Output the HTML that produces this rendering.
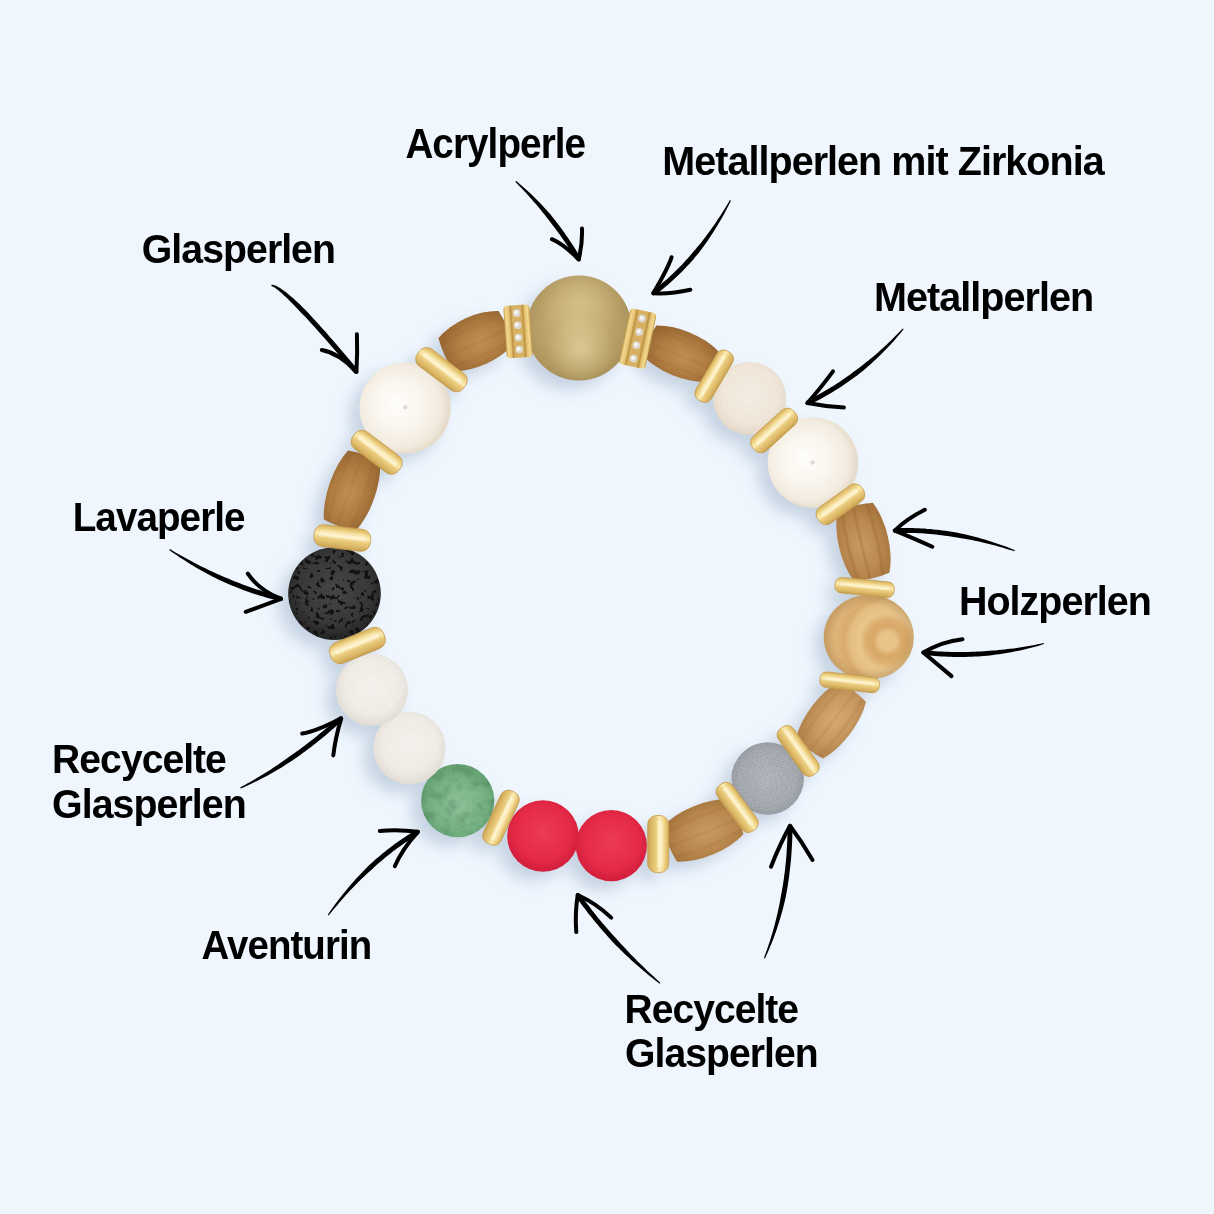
<!DOCTYPE html><html><head><meta charset="utf-8"><style>html,body{margin:0;padding:0;background:#EFF6FE;width:1214px;height:1214px;overflow:hidden}svg{position:absolute;left:0;top:0}</style></head><body>
<svg width="1214" height="1214" viewBox="0 0 1214 1214">
<defs>
<filter id="sh" x="-50%" y="-50%" width="200%" height="200%"><feGaussianBlur stdDeviation="8"/></filter>
<radialGradient id="gGold" cx="50%" cy="48%" r="56%" fx="45%" fy="45%"><stop offset="0" stop-color="#c9b27a"/><stop offset="0.5" stop-color="#bea66d"/><stop offset="0.85" stop-color="#b09760"/><stop offset="1" stop-color="#a28a55"/></radialGradient>
<radialGradient id="gPearl" cx="45%" cy="48%" r="56%" fx="40%" fy="45%"><stop offset="0" stop-color="#fffefb"/><stop offset="0.45" stop-color="#faf6ef"/><stop offset="0.8" stop-color="#f2ebdf"/><stop offset="1" stop-color="#e3d8c5"/></radialGradient>
<radialGradient id="gJade1" cx="50%" cy="45%" r="55%"><stop offset="0" stop-color="#f6efe4"/><stop offset="0.7" stop-color="#f2e8db"/><stop offset="1" stop-color="#e6dac8"/></radialGradient>
<radialGradient id="gJade" cx="50%" cy="45%" r="55%"><stop offset="0" stop-color="#f7f4ef"/><stop offset="0.7" stop-color="#f1ede7"/><stop offset="1" stop-color="#e3ded6"/></radialGradient>
<radialGradient id="gGreen" cx="52%" cy="55%" r="55%"><stop offset="0" stop-color="#8cc198"/><stop offset="0.6" stop-color="#79b486"/><stop offset="1" stop-color="#63a071"/></radialGradient>
<radialGradient id="gRed" cx="50%" cy="45%" r="55%"><stop offset="0" stop-color="#ec3a55"/><stop offset="0.7" stop-color="#e52a47"/><stop offset="1" stop-color="#d11d3a"/></radialGradient>
<radialGradient id="gGrey" cx="50%" cy="50%" r="55%"><stop offset="0" stop-color="#b7bbc0"/><stop offset="0.7" stop-color="#aaafb5"/><stop offset="1" stop-color="#989da4"/></radialGradient>
<radialGradient id="gLava" cx="50%" cy="45%" r="55%"><stop offset="0" stop-color="#454546"/><stop offset="0.7" stop-color="#383839"/><stop offset="1" stop-color="#232324"/></radialGradient>
<radialGradient id="gHolz" gradientUnits="userSpaceOnUse" cx="887.5" cy="641" r="75"><stop offset="0" stop-color="#eac48a"/><stop offset="0.12" stop-color="#e8c287"/><stop offset="0.2" stop-color="#d8a867"/><stop offset="0.28" stop-color="#dcae6e"/><stop offset="0.38" stop-color="#e9c68c"/><stop offset="0.5" stop-color="#e4bd82"/><stop offset="0.58" stop-color="#d9ab6d"/><stop offset="0.7" stop-color="#dfb478"/><stop offset="1" stop-color="#d6aa6c"/></radialGradient>
<radialGradient id="gEdge" cx="50%" cy="50%" r="50%"><stop offset="0" stop-color="#6a4a20" stop-opacity="0"/><stop offset="0.75" stop-color="#6a4a20" stop-opacity="0"/><stop offset="1" stop-color="#6a4a20" stop-opacity="0.2"/></radialGradient>
<radialGradient id="gWood" cx="55%" cy="55%" r="62%"><stop offset="0" stop-color="#c99b62"/><stop offset="0.55" stop-color="#ba8a50"/><stop offset="1" stop-color="#a5743c"/></radialGradient>
<radialGradient id="gWoodD" cx="55%" cy="55%" r="62%"><stop offset="0" stop-color="#c18f52"/><stop offset="0.55" stop-color="#b07d42"/><stop offset="1" stop-color="#976631"/></radialGradient>
<radialGradient id="gWoodL" cx="55%" cy="55%" r="62%"><stop offset="0" stop-color="#d6ab72"/><stop offset="0.55" stop-color="#c89a5f"/><stop offset="1" stop-color="#b0804a"/></radialGradient>
<linearGradient id="gSp2" x1="0" y1="0" x2="0" y2="1"><stop offset="0" stop-color="#fff6d8" stop-opacity="0"/><stop offset="0.45" stop-color="#fff8e0" stop-opacity="0.7"/><stop offset="0.6" stop-color="#fff8e0" stop-opacity="0"/></linearGradient>
<linearGradient id="gSp" x1="0" y1="0" x2="0" y2="1"><stop offset="0" stop-color="#d6b15c"/><stop offset="0.2" stop-color="#eed182"/><stop offset="0.42" stop-color="#fcedb6"/><stop offset="0.6" stop-color="#ebcd7f"/><stop offset="0.85" stop-color="#dab664"/><stop offset="1" stop-color="#c49e4f"/></linearGradient>
<linearGradient id="gZr" x1="0" y1="0" x2="1" y2="0"><stop offset="0" stop-color="#c49c4a"/><stop offset="0.08" stop-color="#f4da92"/><stop offset="0.2" stop-color="#e4c070"/><stop offset="0.27" stop-color="#b98f44"/><stop offset="0.33" stop-color="#d8b262"/><stop offset="0.67" stop-color="#d8b262"/><stop offset="0.73" stop-color="#b98f44"/><stop offset="0.8" stop-color="#e4c070"/><stop offset="0.92" stop-color="#f4da92"/><stop offset="1" stop-color="#c49c4a"/></linearGradient>
<filter id="lavaTex" x="0" y="0" width="100%" height="100%" color-interpolation-filters="sRGB"><feTurbulence type="fractalNoise" baseFrequency="0.2" numOctaves="2" seed="7" result="n"/><feColorMatrix in="n" type="matrix" values="0 0 0 0 0.06  0 0 0 0 0.06  0 0 0 0 0.06  -16 0 0 0 6.8" result="sp"/><feComposite in="sp" in2="SourceGraphic" operator="in"/></filter>
<radialGradient id="gGoldHi1" cx="52%" cy="70%" r="32%"><stop offset="0" stop-color="#efe0b0" stop-opacity="0.55"/><stop offset="1" stop-color="#efe0b0" stop-opacity="0"/></radialGradient>
<radialGradient id="gGoldHi2" cx="52%" cy="25%" r="40%"><stop offset="0" stop-color="#e6d49e" stop-opacity="0.5"/><stop offset="1" stop-color="#e6d49e" stop-opacity="0"/></radialGradient>
<filter id="mottle" x="0" y="0" width="100%" height="100%" color-interpolation-filters="sRGB"><feTurbulence type="fractalNoise" baseFrequency="0.09" numOctaves="3" seed="11" result="n"/><feColorMatrix in="n" type="matrix" values="0 0 0 0 0.1  0 0 0 0 0.25  0 0 0 0 0.15  -2.2 0 0 0 1.25" result="sp"/><feComposite in="sp" in2="SourceGraphic" operator="in"/></filter>
<filter id="speck" x="0" y="0" width="100%" height="100%" color-interpolation-filters="sRGB"><feTurbulence type="fractalNoise" baseFrequency="0.8" numOctaves="1" seed="5" result="n"/><feColorMatrix in="n" type="matrix" values="0 0 0 0 0.35  0 0 0 0 0.37  0 0 0 0 0.4  -3 0 0 0 1.75" result="sp"/><feComposite in="sp" in2="SourceGraphic" operator="in"/></filter>
</defs>
<g filter="url(#sh)" fill="#9fb0c6" opacity="0.5" transform="translate(-10,9)">
<circle cx="579.0" cy="328.0" r="52.5"/>
<circle cx="749.6" cy="398.4" r="36.5"/>
<circle cx="812.9" cy="462.6" r="45.2"/>
<circle cx="868.7" cy="637.0" r="44.0"/>
<circle cx="767.7" cy="778.5" r="36.2"/>
<circle cx="611.3" cy="845.6" r="35.6"/>
<circle cx="543.0" cy="836.0" r="35.8"/>
<circle cx="457.7" cy="800.6" r="36.6"/>
<circle cx="409.4" cy="748.0" r="36.2"/>
<circle cx="372.0" cy="690.0" r="36.0"/>
<circle cx="334.5" cy="593.6" r="46.3"/>
<circle cx="405.0" cy="408.0" r="45.6"/>
<path d="M-33.5 -16.7A48.6 23.0 0 0 1 33.5 -16.7Q36.5 0 33.5 16.7A48.6 23.0 0 0 1 -33.5 16.7Q-36.5 0 -33.5 -16.7Z" transform="translate(680.8 353.7) rotate(22.5)"/>
<path d="M-33.0 -18.1A47.9 25.0 0 0 1 33.0 -18.1Q36.0 0 33.0 18.1A47.9 25.0 0 0 1 -33.0 18.1Q-36.0 0 -33.0 -18.1Z" transform="translate(476.0 341.0) rotate(-24.3)"/>
<path d="M-36.0 -18.1A52.2 25.0 0 0 1 36.0 -18.1Q39.0 0 36.0 18.1A52.2 25.0 0 0 1 -36.0 18.1Q-39.0 0 -36.0 -18.1Z" transform="translate(863.5 542.0) rotate(76.7)"/>
<path d="M-35.5 -17.0A51.5 23.5 0 0 1 35.5 -17.0Q38.5 0 35.5 17.0A51.5 23.5 0 0 1 -35.5 17.0Q-38.5 0 -35.5 -17.0Z" transform="translate(831.0 720.0) rotate(-52.7)"/>
<path d="M-36.0 -18.8A52.2 26.0 0 0 1 36.0 -18.8Q39.0 0 36.0 18.8A52.2 26.0 0 0 1 -36.0 18.8Q-39.0 0 -36.0 -18.8Z" transform="translate(703.0 830.5) rotate(-22.3)"/>
<path d="M-36.5 -17.0A52.9 23.5 0 0 1 36.5 -17.0Q39.5 0 36.5 17.0A52.9 23.5 0 0 1 -36.5 17.0Q-39.5 0 -36.5 -17.0Z" transform="translate(352.0 490.6) rotate(109.3)"/>
<rect x="685.9" y="367.1" width="56.7" height="18.0" rx="9.0" transform="rotate(-59.6 714.2 376.1)"/>
<rect x="746.7" y="420.8" width="55.0" height="19.5" rx="9.8" transform="rotate(-42.3 774.2 430.5)"/>
<rect x="813.5" y="494.6" width="54.0" height="19.5" rx="9.8" transform="rotate(-35.6 840.5 504.3)"/>
<rect x="835.0" y="579.8" width="59.5" height="15.5" rx="7.8" transform="rotate(5.6 864.7 587.5)"/>
<rect x="819.9" y="674.6" width="59.7" height="15.5" rx="7.8" transform="rotate(6.6 849.7 682.4)"/>
<rect x="769.7" y="741.6" width="57.0" height="18.5" rx="9.2" transform="rotate(54.3 798.2 750.9)"/>
<rect x="709.0" y="798.0" width="56.5" height="18.5" rx="9.2" transform="rotate(53.5 737.2 807.3)"/>
<rect x="629.7" y="833.5" width="57.0" height="21.0" rx="10.5" transform="rotate(90.0 658.2 844.0)"/>
<rect x="472.1" y="808.0" width="57.5" height="19.5" rx="9.8" transform="rotate(114.9 500.9 817.7)"/>
<rect x="328.8" y="634.5" width="57.5" height="22.0" rx="11.0" transform="rotate(-22.0 357.5 645.5)"/>
<rect x="313.9" y="527.0" width="56.8" height="22.0" rx="11.0" transform="rotate(7.0 342.3 538.0)"/>
<rect x="348.2" y="441.8" width="57.0" height="21.0" rx="10.5" transform="rotate(37.0 376.7 452.3)"/>
<rect x="412.8" y="359.2" width="57.5" height="21.0" rx="10.5" transform="rotate(37.0 441.5 369.7)"/>
</g>
<circle cx="579.0" cy="328.0" r="52.5" fill="url(#gGold)"/>
<circle cx="579.0" cy="328.0" r="52.5" fill="url(#gGoldHi1)"/><circle cx="579.0" cy="328.0" r="52.5" fill="url(#gGoldHi2)"/>
<circle cx="749.6" cy="398.4" r="36.5" fill="url(#gJade1)"/>
<circle cx="749.6" cy="398.4" r="36.5" fill="#000" filter="url(#speck)" opacity="0.05"/>
<circle cx="812.9" cy="462.6" r="45.2" fill="url(#gPearl)"/>
<ellipse cx="868.8" cy="637.2" rx="45.1" ry="42.4" fill="url(#gHolz)"/><ellipse cx="868.8" cy="637.2" rx="45.1" ry="42.4" fill="url(#gEdge)"/>
<circle cx="767.7" cy="778.5" r="36.2" fill="url(#gGrey)"/>
<circle cx="767.7" cy="778.5" r="36.2" fill="#000" filter="url(#speck)" opacity="0.25"/>
<circle cx="611.3" cy="845.6" r="35.6" fill="url(#gRed)"/>
<circle cx="543.0" cy="836.0" r="35.8" fill="url(#gRed)"/>
<circle cx="457.7" cy="800.6" r="36.6" fill="url(#gGreen)"/>
<circle cx="457.7" cy="800.6" r="36.6" fill="#000" filter="url(#mottle)" opacity="0.22"/>
<circle cx="409.4" cy="748.0" r="36.2" fill="url(#gJade)"/>
<circle cx="409.4" cy="748.0" r="36.2" fill="#000" filter="url(#speck)" opacity="0.05"/>
<circle cx="372.0" cy="690.0" r="36.0" fill="url(#gJade)"/>
<circle cx="372.0" cy="690.0" r="36.0" fill="#000" filter="url(#speck)" opacity="0.05"/>
<circle cx="334.5" cy="593.6" r="46.3" fill="url(#gLava)"/>
<circle cx="405.0" cy="408.0" r="45.6" fill="url(#gPearl)"/>
<circle cx="405.3" cy="407.3" r="2.2" fill="#cbc3b6" opacity="0.55"/><circle cx="812.5" cy="462.5" r="2.2" fill="#cbc3b6" opacity="0.55"/>
<circle cx="334.5" cy="593.6" r="45.8" fill="#000" filter="url(#lavaTex)" opacity="0.9"/>
<g transform="translate(680.8 353.7) rotate(22.5)"><clipPath id="wc0"><path d="M-33.5 -16.7A48.6 23.0 0 0 1 33.5 -16.7Q36.5 0 33.5 16.7A48.6 23.0 0 0 1 -33.5 16.7Q-36.5 0 -33.5 -16.7Z"/></clipPath><path d="M-33.5 -16.7A48.6 23.0 0 0 1 33.5 -16.7Q36.5 0 33.5 16.7A48.6 23.0 0 0 1 -33.5 16.7Q-36.5 0 -33.5 -16.7Z" fill="url(#gWoodD)"/>
<g clip-path="url(#wc0)" fill="none" stroke="#8a5a28" stroke-opacity="0.1" stroke-width="3">
<path d="M-35.5 -10.3Q0 -14.8 35.5 -10.3"/>
<path d="M-35.5 1.8Q0 2.6 35.5 1.8"/>
<path d="M-35.5 12.1Q0 17.5 35.5 12.1"/>
</g></g>
<g transform="translate(476.0 341.0) rotate(-24.3)"><clipPath id="wc1"><path d="M-33.0 -18.1A47.9 25.0 0 0 1 33.0 -18.1Q36.0 0 33.0 18.1A47.9 25.0 0 0 1 -33.0 18.1Q-36.0 0 -33.0 -18.1Z"/></clipPath><path d="M-33.0 -18.1A47.9 25.0 0 0 1 33.0 -18.1Q36.0 0 33.0 18.1A47.9 25.0 0 0 1 -33.0 18.1Q-36.0 0 -33.0 -18.1Z" fill="url(#gWoodD)"/>
<g clip-path="url(#wc1)" fill="none" stroke="#8a5a28" stroke-opacity="0.1" stroke-width="3">
<path d="M-35.0 -11.2Q0 -16.1 35.0 -11.2"/>
<path d="M-35.0 2.0Q0 2.9 35.0 2.0"/>
<path d="M-35.0 13.2Q0 19.0 35.0 13.2"/>
</g></g>
<g transform="translate(863.5 542.0) rotate(76.7)"><clipPath id="wc2"><path d="M-36.0 -18.1A52.2 25.0 0 0 1 36.0 -18.1Q39.0 0 36.0 18.1A52.2 25.0 0 0 1 -36.0 18.1Q-39.0 0 -36.0 -18.1Z"/></clipPath><path d="M-36.0 -18.1A52.2 25.0 0 0 1 36.0 -18.1Q39.0 0 36.0 18.1A52.2 25.0 0 0 1 -36.0 18.1Q-39.0 0 -36.0 -18.1Z" fill="url(#gWood)"/>
<g clip-path="url(#wc2)" fill="none" stroke="#8a5a28" stroke-opacity="0.25" stroke-width="3">
<path d="M-38.0 -11.2Q0 -16.1 38.0 -11.2"/>
<path d="M-38.0 2.0Q0 2.9 38.0 2.0"/>
<path d="M-38.0 13.2Q0 19.0 38.0 13.2"/>
</g></g>
<g transform="translate(831.0 720.0) rotate(-52.7)"><clipPath id="wc3"><path d="M-35.5 -17.0A51.5 23.5 0 0 1 35.5 -17.0Q38.5 0 35.5 17.0A51.5 23.5 0 0 1 -35.5 17.0Q-38.5 0 -35.5 -17.0Z"/></clipPath><path d="M-35.5 -17.0A51.5 23.5 0 0 1 35.5 -17.0Q38.5 0 35.5 17.0A51.5 23.5 0 0 1 -35.5 17.0Q-38.5 0 -35.5 -17.0Z" fill="url(#gWoodL)"/>
<g clip-path="url(#wc3)" fill="none" stroke="#8a5a28" stroke-opacity="0.1" stroke-width="3">
<path d="M-37.5 -10.5Q0 -15.1 37.5 -10.5"/>
<path d="M-37.5 1.9Q0 2.7 37.5 1.9"/>
<path d="M-37.5 12.4Q0 17.8 37.5 12.4"/>
</g></g>
<g transform="translate(703.0 830.5) rotate(-22.3)"><clipPath id="wc4"><path d="M-36.0 -18.8A52.2 26.0 0 0 1 36.0 -18.8Q39.0 0 36.0 18.8A52.2 26.0 0 0 1 -36.0 18.8Q-39.0 0 -36.0 -18.8Z"/></clipPath><path d="M-36.0 -18.8A52.2 26.0 0 0 1 36.0 -18.8Q39.0 0 36.0 18.8A52.2 26.0 0 0 1 -36.0 18.8Q-39.0 0 -36.0 -18.8Z" fill="url(#gWood)"/>
<g clip-path="url(#wc4)" fill="none" stroke="#8a5a28" stroke-opacity="0.1" stroke-width="3">
<path d="M-38.0 -11.6Q0 -16.7 38.0 -11.6"/>
<path d="M-38.0 2.1Q0 3.0 38.0 2.1"/>
<path d="M-38.0 13.7Q0 19.7 38.0 13.7"/>
</g></g>
<g transform="translate(352.0 490.6) rotate(109.3)"><clipPath id="wc5"><path d="M-36.5 -17.0A52.9 23.5 0 0 1 36.5 -17.0Q39.5 0 36.5 17.0A52.9 23.5 0 0 1 -36.5 17.0Q-39.5 0 -36.5 -17.0Z"/></clipPath><path d="M-36.5 -17.0A52.9 23.5 0 0 1 36.5 -17.0Q39.5 0 36.5 17.0A52.9 23.5 0 0 1 -36.5 17.0Q-39.5 0 -36.5 -17.0Z" fill="url(#gWoodD)"/>
<g clip-path="url(#wc5)" fill="none" stroke="#8a5a28" stroke-opacity="0.1" stroke-width="3">
<path d="M-38.5 -10.5Q0 -15.1 38.5 -10.5"/>
<path d="M-38.5 1.9Q0 2.7 38.5 1.9"/>
<path d="M-38.5 12.4Q0 17.8 38.5 12.4"/>
</g></g>
<g transform="translate(714.2 376.1) rotate(-59.6)"><rect x="-28.4" y="-9.0" width="56.7" height="18.0" rx="7.6" fill="url(#gSp)" stroke="#c69c4f" stroke-width="0.8"/><rect x="-23.4" y="-6.0" width="46.7" height="12.0" rx="5.4" fill="url(#gSp2)"/></g>
<g transform="translate(774.2 430.5) rotate(-42.3)"><rect x="-27.5" y="-9.8" width="55.0" height="19.5" rx="8.2" fill="url(#gSp)" stroke="#c69c4f" stroke-width="0.8"/><rect x="-22.5" y="-6.8" width="45.0" height="13.5" rx="5.8" fill="url(#gSp2)"/></g>
<g transform="translate(840.5 504.3) rotate(-35.6)"><rect x="-27.0" y="-9.8" width="54.0" height="19.5" rx="8.2" fill="url(#gSp)" stroke="#c69c4f" stroke-width="0.8"/><rect x="-22.0" y="-6.8" width="44.0" height="13.5" rx="5.8" fill="url(#gSp2)"/></g>
<g transform="translate(864.7 587.5) rotate(5.6)"><rect x="-29.8" y="-7.8" width="59.5" height="15.5" rx="6.5" fill="url(#gSp)" stroke="#c69c4f" stroke-width="0.8"/><rect x="-24.8" y="-4.8" width="49.5" height="9.5" rx="4.6" fill="url(#gSp2)"/></g>
<g transform="translate(849.7 682.4) rotate(6.6)"><rect x="-29.9" y="-7.8" width="59.7" height="15.5" rx="6.5" fill="url(#gSp)" stroke="#c69c4f" stroke-width="0.8"/><rect x="-24.9" y="-4.8" width="49.7" height="9.5" rx="4.6" fill="url(#gSp2)"/></g>
<g transform="translate(798.2 750.9) rotate(54.3)"><rect x="-28.5" y="-9.2" width="57.0" height="18.5" rx="7.8" fill="url(#gSp)" stroke="#c69c4f" stroke-width="0.8"/><rect x="-23.5" y="-6.2" width="47.0" height="12.5" rx="5.5" fill="url(#gSp2)"/></g>
<g transform="translate(737.2 807.3) rotate(53.5)"><rect x="-28.2" y="-9.2" width="56.5" height="18.5" rx="7.8" fill="url(#gSp)" stroke="#c69c4f" stroke-width="0.8"/><rect x="-23.2" y="-6.2" width="46.5" height="12.5" rx="5.5" fill="url(#gSp2)"/></g>
<g transform="translate(658.2 844.0) rotate(90.0)"><rect x="-28.5" y="-10.5" width="57.0" height="21.0" rx="8.8" fill="url(#gSp)" stroke="#c69c4f" stroke-width="0.8"/><rect x="-23.5" y="-7.5" width="47.0" height="15.0" rx="6.3" fill="url(#gSp2)"/></g>
<g transform="translate(500.9 817.7) rotate(114.9)"><rect x="-28.8" y="-9.8" width="57.5" height="19.5" rx="8.2" fill="url(#gSp)" stroke="#c69c4f" stroke-width="0.8"/><rect x="-23.8" y="-6.8" width="47.5" height="13.5" rx="5.8" fill="url(#gSp2)"/></g>
<g transform="translate(357.5 645.5) rotate(-22.0)"><rect x="-28.8" y="-11.0" width="57.5" height="22.0" rx="9.2" fill="url(#gSp)" stroke="#c69c4f" stroke-width="0.8"/><rect x="-23.8" y="-8.0" width="47.5" height="16.0" rx="6.6" fill="url(#gSp2)"/></g>
<g transform="translate(342.3 538.0) rotate(7.0)"><rect x="-28.4" y="-11.0" width="56.8" height="22.0" rx="9.2" fill="url(#gSp)" stroke="#c69c4f" stroke-width="0.8"/><rect x="-23.4" y="-8.0" width="46.8" height="16.0" rx="6.6" fill="url(#gSp2)"/></g>
<g transform="translate(376.7 452.3) rotate(37.0)"><rect x="-28.5" y="-10.5" width="57.0" height="21.0" rx="8.8" fill="url(#gSp)" stroke="#c69c4f" stroke-width="0.8"/><rect x="-23.5" y="-7.5" width="47.0" height="15.0" rx="6.3" fill="url(#gSp2)"/></g>
<g transform="translate(441.5 369.7) rotate(37.0)"><rect x="-28.8" y="-10.5" width="57.5" height="21.0" rx="8.8" fill="url(#gSp)" stroke="#c69c4f" stroke-width="0.8"/><rect x="-23.8" y="-7.5" width="47.5" height="15.0" rx="6.3" fill="url(#gSp2)"/></g>
<g transform="rotate(12.0 637.8 338.6)"><rect x="624.3" y="310.1" width="27.0" height="57.0" rx="4" fill="url(#gZr)"/>
<circle cx="637.8" cy="318.1" r="3.8" fill="#dcd8cf"/><circle cx="637.2" cy="317.5" r="2" fill="#f7f6f2"/>
<circle cx="637.8" cy="331.8" r="3.8" fill="#dcd8cf"/><circle cx="637.2" cy="331.2" r="2" fill="#f7f6f2"/>
<circle cx="637.8" cy="345.4" r="3.8" fill="#dcd8cf"/><circle cx="637.2" cy="344.8" r="2" fill="#f7f6f2"/>
<circle cx="637.8" cy="359.1" r="3.8" fill="#dcd8cf"/><circle cx="637.2" cy="358.5" r="2" fill="#f7f6f2"/>
</g>
<g transform="rotate(-4.0 518.0 331.4)"><rect x="505.0" y="305.1" width="26.0" height="52.5" rx="4" fill="url(#gZr)"/>
<circle cx="518.0" cy="313.1" r="3.8" fill="#dcd8cf"/><circle cx="517.4" cy="312.5" r="2" fill="#f7f6f2"/>
<circle cx="518.0" cy="325.3" r="3.8" fill="#dcd8cf"/><circle cx="517.4" cy="324.7" r="2" fill="#f7f6f2"/>
<circle cx="518.0" cy="337.5" r="3.8" fill="#dcd8cf"/><circle cx="517.4" cy="336.9" r="2" fill="#f7f6f2"/>
<circle cx="518.0" cy="349.6" r="3.8" fill="#dcd8cf"/><circle cx="517.4" cy="349.0" r="2" fill="#f7f6f2"/>
</g>
<g fill="#000">
<path d="M271.3 285.8L272.0 286.2L272.7 286.5L273.5 287.0L274.4 287.5L275.4 288.1L276.4 288.9L277.5 289.7L278.6 290.6L279.9 291.7L281.2 292.8L282.6 294.0L284.0 295.4L285.6 296.8L287.2 298.3L288.8 300.0L290.6 301.7L292.4 303.6L294.3 305.5L296.2 307.6L298.3 309.7L300.4 311.9L302.6 314.2L304.9 316.6L307.3 319.1L309.7 321.8L312.2 324.5L314.8 327.3L317.4 330.2L320.1 333.3L322.9 336.4L325.7 339.6L328.7 343.0L331.6 346.4L334.7 349.9L337.8 353.6L341.0 357.3L344.3 361.2L347.6 365.1L351.0 369.2L354.5 373.4L358.3 370.2L354.8 366.1L351.4 362.0L348.0 358.0L344.8 354.2L341.6 350.4L338.4 346.7L335.4 343.2L332.4 339.7L329.4 336.4L326.6 333.1L323.8 330.0L321.0 327.0L318.4 324.0L315.8 321.2L313.3 318.4L310.8 315.8L308.5 313.3L306.2 310.8L303.9 308.5L301.7 306.3L299.6 304.2L297.5 302.2L295.5 300.4L293.5 298.6L291.6 297.0L289.8 295.4L288.1 294.0L286.4 292.6L284.8 291.4L283.2 290.2L281.8 289.2L280.4 288.3L279.0 287.4L277.7 286.7L276.5 286.1L275.4 285.6L274.3 285.2L273.3 284.9L272.4 284.8L271.5 284.8Z"/>
<path d="M515.3 181.9L517.0 183.6L518.7 185.4L520.4 187.1L522.1 188.8L523.7 190.6L525.4 192.3L527.0 194.1L528.7 195.9L530.3 197.7L531.9 199.5L533.5 201.4L535.1 203.2L536.7 205.1L538.3 206.9L539.8 208.8L541.4 210.7L542.9 212.7L544.5 214.6L546.0 216.6L547.5 218.5L549.1 220.5L550.6 222.4L552.1 224.4L553.7 226.4L555.2 228.4L556.7 230.4L558.2 232.5L559.7 234.6L561.1 236.6L562.6 238.7L564.0 240.8L565.5 243.0L566.9 245.1L568.3 247.3L569.7 249.5L571.1 251.7L572.5 253.9L573.9 256.1L575.2 258.4L576.6 260.6L580.8 258.2L579.4 255.9L578.1 253.6L576.7 251.3L575.3 249.1L573.9 246.8L572.4 244.6L571.0 242.4L569.5 240.2L568.1 238.1L566.6 235.9L565.1 233.8L563.6 231.7L562.1 229.6L560.6 227.5L559.1 225.5L557.6 223.4L556.0 221.4L554.5 219.4L552.9 217.4L551.3 215.5L549.7 213.6L548.0 211.7L546.3 209.8L544.6 208.0L542.9 206.1L541.2 204.3L539.5 202.5L537.8 200.7L536.0 199.0L534.3 197.3L532.5 195.5L530.8 193.8L529.0 192.2L527.2 190.5L525.4 188.9L523.5 187.3L521.7 185.7L519.8 184.1L518.0 182.6L516.1 181.1Z"/>
<path d="M729.9 200.1L728.2 203.0L726.5 205.8L724.7 208.7L723.0 211.4L721.3 214.2L719.5 216.9L717.7 219.6L716.0 222.3L714.2 224.9L712.3 227.5L710.5 230.0L708.7 232.6L706.8 235.1L705.0 237.5L703.1 240.0L701.2 242.4L699.3 244.7L697.3 247.1L695.4 249.4L693.4 251.6L691.5 253.9L689.6 256.2L687.6 258.4L685.6 260.6L683.7 262.7L681.7 264.9L679.6 267.0L677.6 269.0L675.5 271.1L673.5 273.1L671.4 275.0L669.3 277.0L667.2 278.9L665.0 280.8L662.9 282.6L660.7 284.4L658.5 286.2L656.3 287.9L654.1 289.6L651.8 291.3L654.8 295.3L657.0 293.5L659.3 291.8L661.6 290.0L663.8 288.2L666.0 286.3L668.2 284.5L670.4 282.5L672.6 280.6L674.7 278.6L676.9 276.6L679.0 274.6L681.1 272.5L683.1 270.4L685.2 268.3L687.2 266.1L689.3 263.9L691.3 261.7L693.3 259.4L695.2 257.1L697.2 254.8L699.1 252.4L700.9 249.9L702.8 247.4L704.6 244.9L706.4 242.4L708.2 239.9L709.9 237.3L711.7 234.6L713.4 232.0L715.1 229.3L716.8 226.6L718.4 223.8L720.1 221.0L721.7 218.2L723.3 215.4L724.9 212.5L726.4 209.6L727.9 206.7L729.4 203.7L730.9 200.7Z"/>
<path d="M902.8 328.5L900.6 330.8L898.3 333.1L896.1 335.3L893.9 337.5L891.7 339.7L889.4 341.9L887.2 344.0L884.9 346.2L882.7 348.3L880.4 350.3L878.1 352.4L875.8 354.4L873.4 356.4L871.1 358.3L868.7 360.2L866.4 362.1L864.0 364.0L861.6 365.9L859.2 367.7L856.8 369.5L854.4 371.3L852.0 373.1L849.6 374.9L847.2 376.6L844.7 378.3L842.3 380.0L839.8 381.7L837.3 383.3L834.8 384.9L832.3 386.5L829.8 388.0L827.2 389.6L824.7 391.1L822.1 392.5L819.5 394.0L816.9 395.4L814.3 396.8L811.6 398.1L809.0 399.5L806.3 400.8L808.5 405.2L811.2 403.9L813.9 402.5L816.6 401.1L819.2 399.7L821.9 398.3L824.5 396.8L827.1 395.3L829.7 393.8L832.3 392.2L834.9 390.6L837.5 389.0L840.0 387.4L842.5 385.7L845.0 384.1L847.5 382.3L850.0 380.6L852.5 378.8L854.9 377.0L857.4 375.2L859.8 373.3L862.2 371.4L864.5 369.4L866.8 367.4L869.1 365.4L871.4 363.4L873.7 361.3L876.0 359.2L878.2 357.0L880.4 354.9L882.6 352.7L884.8 350.5L887.0 348.3L889.1 346.0L891.3 343.7L893.4 341.4L895.5 339.0L897.6 336.6L899.6 334.2L901.6 331.8L903.6 329.3Z"/>
<path d="M1014.9 550.2L1011.9 548.9L1008.9 547.7L1005.9 546.6L1002.8 545.5L999.8 544.4L996.8 543.4L993.8 542.4L990.8 541.4L987.8 540.5L984.7 539.6L981.7 538.7L978.7 537.8L975.7 537.0L972.7 536.2L969.7 535.5L966.6 534.8L963.6 534.1L960.6 533.4L957.6 532.8L954.6 532.2L951.6 531.7L948.6 531.2L945.6 530.8L942.5 530.4L939.5 530.0L936.5 529.7L933.5 529.4L930.5 529.1L927.5 528.9L924.5 528.6L921.5 528.5L918.5 528.3L915.6 528.2L912.6 528.1L909.6 528.0L906.6 528.0L903.6 528.0L900.7 528.0L897.7 528.1L894.7 528.2L894.9 533.0L897.8 533.0L900.7 532.9L903.6 532.9L906.6 532.9L909.5 532.9L912.4 533.0L915.4 533.1L918.3 533.2L921.3 533.3L924.2 533.5L927.1 533.7L930.1 534.0L933.0 534.3L936.0 534.6L939.0 534.9L941.9 535.3L944.9 535.7L947.9 536.1L950.8 536.5L953.8 537.0L956.8 537.5L959.8 537.9L962.8 538.4L965.8 538.9L968.8 539.5L971.8 540.1L974.8 540.7L977.8 541.3L980.9 542.0L983.9 542.7L986.9 543.5L990.0 544.2L993.0 545.0L996.1 545.8L999.1 546.7L1002.2 547.5L1005.2 548.4L1008.3 549.4L1011.4 550.3L1014.5 551.2Z"/>
<path d="M1043.7 643.1L1040.6 643.7L1037.6 644.3L1034.6 644.9L1031.6 645.4L1028.6 646.0L1025.6 646.5L1022.6 647.0L1019.6 647.5L1016.6 647.9L1013.6 648.4L1010.6 648.8L1007.6 649.1L1004.6 649.5L1001.6 649.8L998.6 650.1L995.6 650.4L992.6 650.6L989.6 650.8L986.6 651.0L983.6 651.2L980.6 651.4L977.6 651.5L974.6 651.7L971.6 651.8L968.7 651.9L965.7 652.0L962.7 652.0L959.7 652.0L956.7 652.0L953.7 652.0L950.7 651.9L947.6 651.8L944.6 651.7L941.6 651.5L938.6 651.4L935.6 651.2L932.6 650.9L929.6 650.7L926.6 650.4L923.6 650.1L923.0 654.9L926.1 655.3L929.1 655.5L932.2 655.8L935.3 656.1L938.3 656.3L941.4 656.4L944.4 656.6L947.5 656.7L950.5 656.8L953.6 656.9L956.6 656.9L959.7 656.9L962.7 656.9L965.7 656.9L968.8 656.8L971.8 656.7L974.9 656.6L977.9 656.4L980.9 656.3L984.0 656.0L987.0 655.7L990.0 655.4L993.1 655.0L996.1 654.6L999.1 654.2L1002.1 653.7L1005.1 653.2L1008.1 652.7L1011.1 652.2L1014.1 651.6L1017.1 651.0L1020.1 650.4L1023.1 649.7L1026.1 649.0L1029.1 648.3L1032.1 647.5L1035.1 646.7L1038.0 645.9L1041.0 645.1L1043.9 644.1Z"/>
<path d="M169.3 550.1L171.9 552.0L174.5 553.8L177.2 555.6L179.8 557.4L182.5 559.1L185.2 560.8L187.8 562.5L190.5 564.2L193.2 565.8L195.9 567.4L198.6 568.9L201.3 570.5L204.1 572.0L206.8 573.5L209.5 574.9L212.3 576.4L215.0 577.8L217.8 579.2L220.5 580.5L223.3 581.8L226.1 583.1L228.9 584.3L231.7 585.4L234.6 586.6L237.4 587.7L240.2 588.8L243.1 589.9L245.9 590.9L248.8 591.9L251.6 592.9L254.5 593.9L257.3 594.8L260.2 595.7L263.1 596.6L266.0 597.4L268.8 598.3L271.7 599.1L274.6 599.8L277.5 600.6L280.4 601.3L281.6 596.5L278.7 595.8L275.9 595.1L273.0 594.3L270.2 593.5L267.3 592.7L264.5 591.9L261.7 591.0L258.8 590.1L256.0 589.2L253.2 588.3L250.4 587.3L247.6 586.3L244.8 585.3L242.0 584.2L239.2 583.1L236.4 582.0L233.6 580.9L230.8 579.8L228.1 578.6L225.3 577.4L222.5 576.2L219.7 575.0L216.9 573.8L214.1 572.5L211.4 571.3L208.6 570.0L205.8 568.6L203.0 567.3L200.3 565.9L197.5 564.5L194.7 563.1L192.0 561.6L189.2 560.1L186.4 558.6L183.7 557.1L180.9 555.5L178.2 554.0L175.4 552.4L172.7 550.7L169.9 549.1Z"/>
<path d="M240.6 788.5L243.3 787.4L245.9 786.3L248.5 785.1L251.2 783.8L253.8 782.6L256.4 781.3L259.0 780.0L261.6 778.6L264.2 777.3L266.8 775.9L269.4 774.4L272.0 773.0L274.6 771.5L277.2 770.0L279.8 768.4L282.4 766.9L284.9 765.3L287.5 763.6L290.1 762.0L292.7 760.3L295.2 758.5L297.8 756.8L300.3 754.9L302.8 753.1L305.3 751.2L307.9 749.3L310.4 747.4L312.9 745.5L315.4 743.5L317.9 741.5L320.4 739.5L322.9 737.4L325.4 735.4L327.9 733.3L330.4 731.1L332.9 729.0L335.4 726.8L337.9 724.6L340.4 722.4L342.9 720.1L339.5 716.5L337.1 718.7L334.6 720.9L332.2 723.1L329.7 725.3L327.2 727.4L324.8 729.5L322.3 731.6L319.8 733.6L317.3 735.7L314.8 737.7L312.4 739.7L309.9 741.6L307.4 743.5L304.9 745.4L302.4 747.3L299.9 749.2L297.4 751.0L294.9 752.8L292.4 754.5L289.9 756.3L287.4 758.1L285.0 759.8L282.5 761.6L280.0 763.3L277.6 765.0L275.1 766.6L272.6 768.3L270.1 769.9L267.6 771.5L265.1 773.0L262.7 774.6L260.2 776.1L257.7 777.6L255.2 779.0L252.7 780.5L250.2 781.9L247.7 783.3L245.2 784.7L242.7 786.1L240.2 787.5Z"/>
<path d="M328.6 915.4L330.8 912.8L332.9 910.2L335.0 907.7L337.2 905.2L339.3 902.6L341.4 900.2L343.6 897.7L345.7 895.3L347.9 892.9L350.1 890.6L352.3 888.3L354.5 886.0L356.7 883.8L358.9 881.5L361.1 879.3L363.3 877.2L365.6 875.1L367.8 873.0L370.1 870.9L372.4 868.9L374.6 866.8L376.8 864.8L379.1 862.8L381.4 860.9L383.6 859.0L385.9 857.1L388.2 855.2L390.5 853.4L392.8 851.6L395.2 849.8L397.5 848.1L399.9 846.4L402.2 844.7L404.6 843.1L407.0 841.5L409.4 839.9L411.8 838.4L414.3 836.8L416.7 835.4L419.1 833.9L416.7 829.7L414.2 831.2L411.7 832.7L409.2 834.2L406.8 835.8L404.3 837.4L401.9 839.0L399.4 840.7L397.0 842.4L394.6 844.1L392.2 845.9L389.9 847.7L387.5 849.5L385.2 851.4L382.8 853.3L380.5 855.2L378.2 857.2L375.9 859.1L373.6 861.2L371.3 863.2L369.0 865.3L366.8 867.5L364.6 869.7L362.5 871.9L360.3 874.2L358.2 876.5L356.0 878.8L353.9 881.2L351.8 883.5L349.7 886.0L347.6 888.4L345.6 890.9L343.5 893.4L341.5 896.0L339.5 898.6L337.5 901.2L335.5 903.8L333.5 906.5L331.6 909.2L329.6 912.0L327.8 914.8Z"/>
<path d="M660.4 982.9L658.2 980.8L655.9 978.7L653.7 976.6L651.4 974.5L649.2 972.5L647.0 970.4L644.8 968.2L642.6 966.1L640.4 964.0L638.2 961.9L636.1 959.7L634.0 957.6L631.8 955.4L629.7 953.2L627.7 951.0L625.6 948.8L623.5 946.6L621.5 944.4L619.5 942.2L617.5 939.9L615.5 937.7L613.4 935.5L611.4 933.3L609.4 931.0L607.4 928.8L605.5 926.5L603.5 924.3L601.6 922.0L599.7 919.7L597.8 917.4L595.9 915.0L594.1 912.7L592.2 910.4L590.4 908.0L588.5 905.6L586.7 903.2L585.0 900.8L583.2 898.4L581.4 896.0L579.7 893.6L575.7 896.4L577.5 898.9L579.2 901.3L581.0 903.8L582.8 906.2L584.7 908.6L586.5 911.0L588.3 913.4L590.2 915.8L592.1 918.1L594.0 920.5L595.9 922.8L597.9 925.1L599.8 927.4L601.8 929.7L603.8 932.0L605.8 934.3L607.8 936.6L609.8 938.8L611.8 941.0L613.9 943.3L616.0 945.4L618.2 947.6L620.4 949.7L622.5 951.8L624.7 953.9L627.0 956.0L629.2 958.1L631.4 960.2L633.7 962.2L636.0 964.3L638.3 966.3L640.6 968.3L642.9 970.3L645.3 972.3L647.6 974.2L650.0 976.2L652.4 978.1L654.8 980.0L657.3 981.9L659.8 983.7Z"/>
<path d="M764.9 958.4L766.3 955.5L767.7 952.6L769.0 949.6L770.2 946.6L771.5 943.6L772.7 940.6L773.8 937.6L774.9 934.5L776.0 931.4L777.1 928.3L778.1 925.1L779.1 922.0L780.1 918.8L781.0 915.6L781.9 912.4L782.8 909.2L783.6 905.9L784.4 902.7L785.2 899.4L785.9 896.1L786.5 892.7L787.1 889.4L787.7 886.0L788.2 882.6L788.7 879.2L789.2 875.7L789.6 872.3L790.0 868.8L790.4 865.3L790.8 861.8L791.1 858.3L791.4 854.8L791.6 851.2L791.8 847.6L792.0 844.0L792.2 840.4L792.3 836.8L792.4 833.2L792.4 829.5L792.4 825.8L787.6 825.8L787.5 829.4L787.5 833.1L787.4 836.7L787.3 840.2L787.1 843.8L786.9 847.4L786.7 850.9L786.5 854.4L786.2 857.9L785.9 861.4L785.5 864.8L785.2 868.3L784.8 871.7L784.3 875.1L783.9 878.5L783.4 881.8L782.9 885.2L782.3 888.5L781.7 891.8L781.1 895.1L780.5 898.4L779.9 901.7L779.3 905.0L778.6 908.2L777.9 911.4L777.2 914.6L776.4 917.8L775.6 921.0L774.8 924.2L774.0 927.3L773.1 930.5L772.2 933.6L771.2 936.7L770.3 939.8L769.3 942.8L768.2 945.9L767.2 948.9L766.1 951.9L765.0 955.0L763.9 958.0Z"/>
</g>
<g fill="none" stroke="#000" stroke-linecap="round" stroke-linejoin="round">
<path d="M356.9 334.2Q357.6 353.0 356.4 371.8" stroke-width="4.0"/>
<path d="M321.8 350.0Q339.1 353.1 356.4 371.8" stroke-width="4.0"/>
<path d="M582.0 228.5Q582.6 243.9 578.7 259.4" stroke-width="4.0"/>
<path d="M551.9 239.2Q563.3 243.9 578.7 259.4" stroke-width="4.0"/>
<path d="M671.6 257.2Q667.9 268.6 653.3 293.3" stroke-width="4.0"/>
<path d="M690.4 289.8Q671.2 294.2 653.3 293.3" stroke-width="4.0"/>
<path d="M833.0 371.4Q818.2 391.2 807.4 403.0" stroke-width="4.0"/>
<path d="M843.9 407.5Q825.6 406.6 807.4 403.0" stroke-width="4.0"/>
<path d="M924.8 509.8Q906.4 519.0 894.8 530.6" stroke-width="4.0"/>
<path d="M932.3 546.7Q911.8 537.5 894.8 530.6" stroke-width="4.0"/>
<path d="M962.5 639.2Q941.7 641.6 923.3 652.5" stroke-width="4.0"/>
<path d="M951.5 676.1Q937.4 664.3 923.3 652.5" stroke-width="4.0"/>
<path d="M247.8 573.7Q259.0 590.1 281.0 598.9" stroke-width="4.0"/>
<path d="M245.7 611.8Q263.4 605.3 281.0 598.9" stroke-width="4.0"/>
<path d="M302.2 733.6Q316.3 731.4 341.2 718.3" stroke-width="4.0"/>
<path d="M333.3 755.4Q335.2 738.2 341.2 718.3" stroke-width="4.0"/>
<path d="M379.8 830.9Q398.9 829.3 417.9 831.8" stroke-width="4.0"/>
<path d="M394.8 866.2Q402.2 849.0 417.9 831.8" stroke-width="4.0"/>
<path d="M576.3 932.1Q574.8 913.5 577.7 895.0" stroke-width="4.0"/>
<path d="M611.2 917.6Q595.2 902.7 577.7 895.0" stroke-width="4.0"/>
<path d="M771.0 866.7Q779.7 844.6 790.0 825.8" stroke-width="4.0"/>
<path d="M812.5 860.0Q801.9 841.7 790.0 825.8" stroke-width="4.0"/>
</g>
<g font-family="Liberation Sans, sans-serif" font-weight="bold" fill="#000" style="will-change:transform">
<text x="405.40" y="158.10" font-size="42.15" textLength="179.80" lengthAdjust="spacingAndGlyphs" letter-spacing="-1">Acrylperle</text>
<text x="662.30" y="174.70" font-size="41.57" textLength="441.40" lengthAdjust="spacingAndGlyphs" letter-spacing="-1">Metallperlen mit Zirkonia</text>
<text x="141.80" y="263.10" font-size="40.84" textLength="193.20" lengthAdjust="spacingAndGlyphs" letter-spacing="-1">Glasperlen</text>
<text x="873.90" y="311.10" font-size="41.43" textLength="219.30" lengthAdjust="spacingAndGlyphs" letter-spacing="-1">Metallperlen</text>
<text x="72.70" y="531.10" font-size="41.13" textLength="171.90" lengthAdjust="spacingAndGlyphs" letter-spacing="-1">Lavaperle</text>
<text x="958.90" y="615.30" font-size="41.13" textLength="192.00" lengthAdjust="spacingAndGlyphs" letter-spacing="-1">Holzperlen</text>
<text x="52.10" y="773.06" font-size="40.71" textLength="173.80" lengthAdjust="spacingAndGlyphs" letter-spacing="-1">Recycelte</text>
<text x="52.10" y="817.80" font-size="40.70" textLength="193.60" lengthAdjust="spacingAndGlyphs" letter-spacing="-1">Glasperlen</text>
<text x="201.60" y="958.90" font-size="41.57" textLength="169.70" lengthAdjust="spacingAndGlyphs" letter-spacing="-1">Aventurin</text>
<text x="624.50" y="1022.70" font-size="41.43" textLength="173.60" lengthAdjust="spacingAndGlyphs" letter-spacing="-1">Recycelte</text>
<text x="625.10" y="1067.00" font-size="40.12" textLength="192.60" lengthAdjust="spacingAndGlyphs" letter-spacing="-1">Glasperlen</text>
</g>
</svg></body></html>
